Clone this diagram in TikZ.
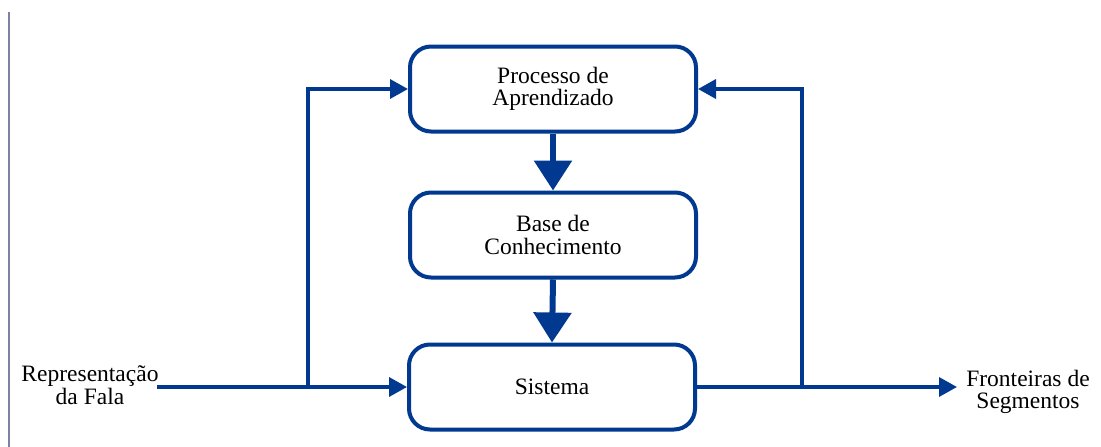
\documentclass[tikz,border=0pt]{standalone}
\usepackage{fontspec}
\setmainfont{Liberation Serif}
\usetikzlibrary{arrows.meta}
\definecolor{navy}{RGB}{0,57,143}
\definecolor{rulegray}{RGB}{128,128,160}
\begin{document}
\begin{tikzpicture}[x=1pt,y=-1pt,
  block/.style={draw=navy, line width=4pt, rounded corners=21pt,
    minimum width=286pt, minimum height=85pt, align=center,
    inner sep=0pt, font=\fontsize{23.5}{22.5}\selectfont},
  label/.style={align=center, inner sep=0pt, font=\fontsize{23.5}{22.5}\selectfont},
  flow/.style={draw=navy, line width=3.5pt,
    -{Triangle[length=18pt,width=19pt]}},
  bigflow/.style={draw=navy, line width=6pt,
    -{Triangle[length=30pt,width=37pt]}}]
\useasboundingbox (0,0) rectangle (1101,447);
% margin rule
\draw[rulegray, line width=1.5pt] (9,12) -- (9,447);
% blocks
\node[block] (learn) at (553,89) {Processo de\\Aprendizado};
\node[block] (kb) at (553,235) {Base de\\Conhecimento};
\node[block] (sys) at (552,387) {Sistema};
% input and output labels
\node[label] (inlab) at (90,385) {Representação\\da Fala};
\node[label] (outlab) at (1028,392) {Fronteiras de\\Segmentos};
% connection points
\coordinate (in) at (157,387);
\coordinate (jl) at (308,387);
\coordinate (jr) at (802,387);
\coordinate (out) at (957,387);
% main flow
\draw[bigflow] (learn.south) -- (kb.north);
\draw[bigflow] (kb.south) -- (sys.north);
\draw[flow] (in) -- (sys.west);
\draw[flow] (jl) |- (learn.west);
\draw[flow] (sys.east) -- (out);
\draw[flow] (jr) |- (learn.east);
\end{tikzpicture}
\end{document}
